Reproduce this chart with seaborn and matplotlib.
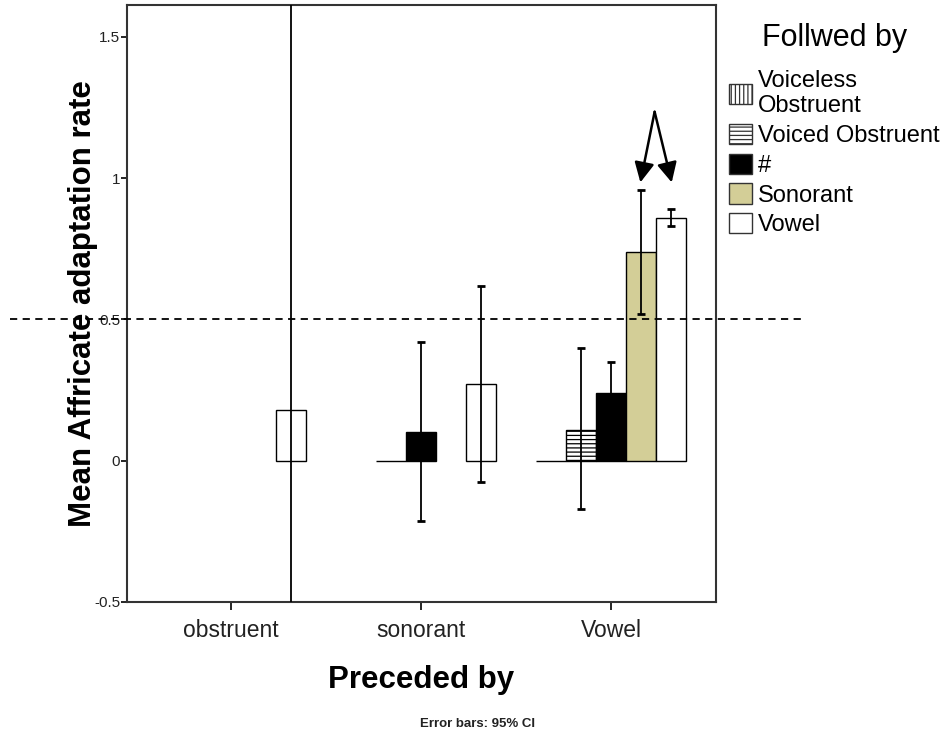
import pandas as pd
import matplotlib
matplotlib.use('Agg')
import matplotlib.pyplot as plt
import matplotlib.patches as mpatches
import seaborn as sns

# data
preceded = ['obstruent', 'sonorant', 'Vowel']
followed = ['Voiceless Obstruent', 'Voiced Obstruent', '#', 'Sonorant', 'Vowel']
legend_labels = ['Voiceless\nObstruent', 'Voiced Obstruent', '#', 'Sonorant', 'Vowel']

row_pre = ['obstruent', 'sonorant', 'sonorant', 'sonorant',
           'Vowel', 'Vowel', 'Vowel', 'Vowel', 'Vowel']
row_fol = ['Vowel', 'Voiced Obstruent', '#', 'Vowel',
           'Voiceless Obstruent', 'Voiced Obstruent', '#', 'Sonorant', 'Vowel']
means = [0.18, 0.0, 0.10, 0.27, 0.0, 0.11, 0.24, 0.74, 0.86]
ci_low = [-3.0, None, -0.215, -0.075, None, -0.17, 0.13, 0.52, 0.83]
ci_high = [4.0, None, 0.42, 0.62, None, 0.40, 0.35, 0.957, 0.89]

yticks = [-0.5, 0, 0.5, 1, 1.5]
ytick_labels = ['-0.5', '0', '0.5', '1', '1.5']

colors = {'Voiceless Obstruent': 'white', 'Voiced Obstruent': 'white',
          '#': 'black', 'Sonorant': '#D3CE97', 'Vowel': 'white'}
hatches = {'Voiceless Obstruent': '||||', 'Voiced Obstruent': '----',
           '#': '', 'Sonorant': '', 'Vowel': ''}

df = pd.DataFrame({'pre': row_pre, 'fol': row_fol, 'mean': means,
                   'lo': ci_low, 'hi': ci_high})

sns.set_style('white')
plt.rcParams['font.family'] = ['Liberation Sans', 'DejaVu Sans']
plt.rcParams['hatch.linewidth'] = 0.9
for k in ['text.color', 'axes.labelcolor', 'xtick.color', 'ytick.color']:
    plt.rcParams[k] = 'black'

fig = plt.figure(figsize=(9.52, 7.32), dpi=100)
ax = fig.add_axes([0.1334, 0.1776, 0.6187, 0.8156])

sns.barplot(data=df, x='pre', y='mean', hue='fol', order=preceded,
            hue_order=followed, palette=colors, saturation=1, errorbar=None,
            edgecolor='black', linewidth=1.0, width=0.79, legend=False, ax=ax)

# hatching and error bars
for fol, cont in zip(followed, ax.containers):
    for bar in cont:
        bar.set_hatch(hatches[fol])
        bar.set_edgecolor('black')
    sub = df[df['fol'] == fol]
    for _, r in sub.iterrows():
        if pd.isna(r['lo']):
            continue
        ci = preceded.index(r['pre'])
        bar = min(cont, key=lambda b: abs(b.get_x() + b.get_width() / 2 - ci
                                          - (followed.index(fol) - 2) * 0.158))
        xc = bar.get_x() + bar.get_width() / 2
        ax.errorbar([xc], [r['mean']],
                    yerr=[[r['mean'] - r['lo']], [r['hi'] - r['mean']]],
                    fmt='none', ecolor='black', elinewidth=1.3,
                    capsize=2.8, capthick=2, zorder=4)

ax.set_xlim(-0.547, 2.553)
ax.set_ylim(-0.5, 1.613)
ax.set_yticks(yticks)
ax.set_yticklabels(ytick_labels, fontsize=11, color='#222222')
ax.tick_params(axis='y', direction='out', length=4, width=1.2, left=True, pad=1)
ax.tick_params(axis='x', direction='out', length=6, width=1.2, bottom=True,
               labelsize=16.5, pad=6.5, labelcolor='#222222')

for s in ax.spines.values():
    s.set_linewidth(1.5)
    s.set_color('#333333')

ax.set_xlabel('Preceded by', fontsize=22.5, fontweight='bold')
ax.set_ylabel('Mean Affricate adaptation rate', fontsize=22.5, fontweight='bold')
ax.xaxis.set_label_coords(0.499, -0.105)
ax.yaxis.set_label_coords(-0.05, 0.5)

# reference line at 0.5 reaching outside the frame
ax.axhline(0.5, xmin=-0.199, xmax=1.151, clip_on=False, color='black',
           linewidth=1.3, dashes=(4, 3), zorder=5)

# arrows pointing at the Sonorant and Vowel bars in the Vowel group
for tx in [2.155, 2.32]:
    ax.annotate('', xy=(tx, 0.985), xytext=(2.23, 1.235),
                arrowprops=dict(arrowstyle='-|>,head_length=0.6,head_width=0.3',
                                color='black', lw=1.8, mutation_scale=20,
                                shrinkA=0, shrinkB=0))

handles = [mpatches.Patch(facecolor=colors[f], edgecolor='#333333',
                          hatch=hatches[f], linewidth=1.0) for f in followed]
leg = fig.legend(handles, legend_labels, title='Follwed by', loc='upper left',
                 bbox_to_anchor=(0.766, 0.968), frameon=False, fontsize=17,
                 title_fontsize=22, handlelength=0.95, handleheight=0.95,
                 handletextpad=0.25, labelspacing=0.27, borderpad=0,
                 borderaxespad=0)
leg._legend_box.sep = 12

fig.text(0.502, 0.003, 'Error bars: 95% CI', ha='center', va='bottom',
         fontsize=9.5, fontweight='bold', color='#222222')

fig.savefig('out.png', dpi=100)
